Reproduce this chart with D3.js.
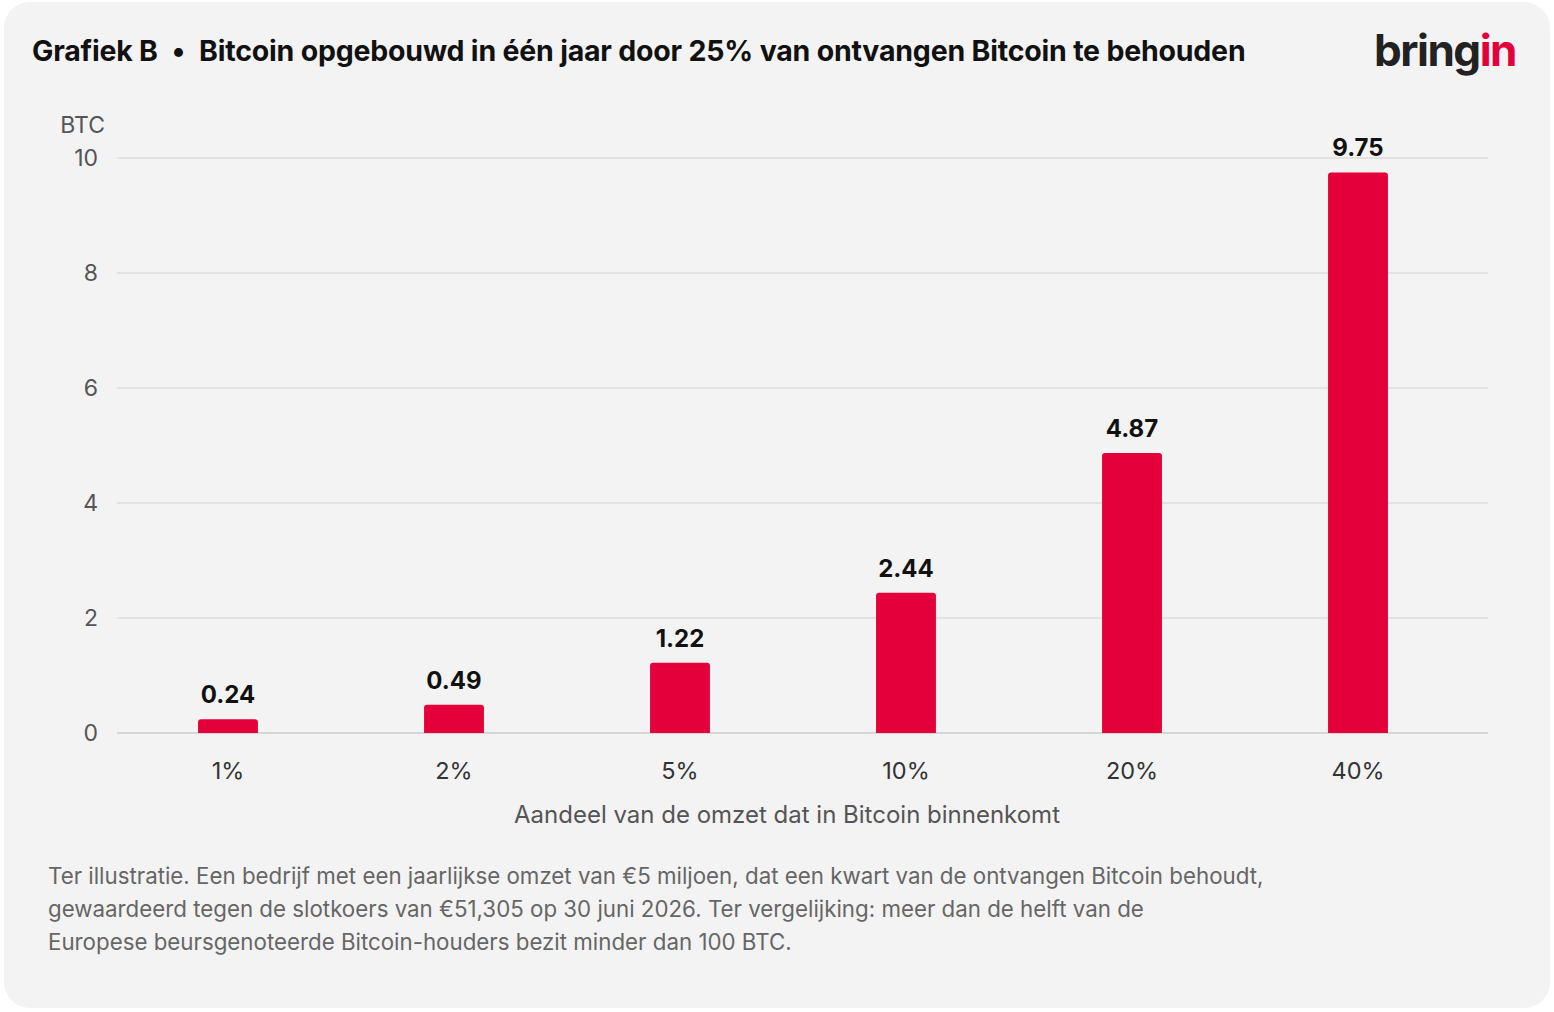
<!DOCTYPE html>
<html><head><meta charset="utf-8">
<script src="https://cdn.jsdelivr.net/npm/d3@7"></script>
<style>body{margin:0;background:#fff;font-family:Inter,"Noto Sans",sans-serif}</style>
</head><body><svg id="c" width="1554" height="1012"></svg>
<script>
const categories = ['1%', '2%', '5%', '10%', '20%', '40%'];
const values = [0.24, 0.49, 1.22, 2.44, 4.87, 9.75];
const yTicks = [0, 2, 4, 6, 8, 10];
const footnote = [
  'Ter illustratie. Een bedrijf met een jaarlijkse omzet van €5 miljoen, dat een kwart van de ontvangen Bitcoin behoudt,',
  'gewaardeerd tegen de slotkoers van €51,305 op 30 juni 2026. Ter vergelijking: meer dan de helft van de',
  'Europese beursgenoteerde Bitcoin-houders bezit minder dan 100 BTC.'
];

const svg = d3.select('#c');
svg.append('rect').attr('x', 4).attr('y', 2).attr('width', 1546).attr('height', 1006)
  .attr('rx', 26).attr('fill', '#f3f3f3');

const title = svg.append('text').attr('x', 32).attr('y', 61).attr('font-size', 28.5).attr('font-weight', 700)
  .attr('fill', '#111').attr('letter-spacing', -0.2);
title.append('tspan').text('Grafiek B');
title.append('tspan').attr('dx', 14).text('•');
title.append('tspan').attr('dx', 14).text('Bitcoin opgebouwd in één jaar door 25% van ontvangen Bitcoin te behouden');

const logo = svg.append('text').attr('x', 1516).attr('y', 66).attr('text-anchor', 'end')
  .attr('font-size', 44).attr('font-weight', 700).attr('letter-spacing', -1.5);
logo.append('tspan').attr('fill', '#222').text('bring');
logo.append('tspan').attr('fill', '#e4003a').text('in');

const x = d3.scaleBand().domain(categories).range([115, 1471]).paddingInner(0.735).paddingOuter(0.3675);
const y = d3.scaleLinear().domain([0, 10]).range([733, 158]);

const g = svg.append('g');
g.selectAll('line.grid').data(yTicks).enter().append('line')
  .attr('x1', 117).attr('x2', 1488).attr('y1', d => y(d)).attr('y2', d => y(d))
  .attr('stroke', d => d === 0 ? '#d6d6d6' : '#e2e2e2').attr('stroke-width', 2);
g.selectAll('text.yt').data(yTicks).enter().append('text')
  .attr('x', 98).attr('y', d => y(d) + 8).attr('text-anchor', 'end')
  .attr('font-size', 23).attr('fill', '#555').text(d => d);
svg.append('text').attr('x', 105).attr('y', 133).attr('text-anchor', 'end')
  .attr('font-size', 23).attr('fill', '#555').text('BTC');

g.selectAll('path.bar').data(values).enter().append('path')
  .attr('fill', '#e4003a')
  .attr('d', (d, i) => {
    const x0 = x(categories[i]), w = x.bandwidth(), y0 = y(d), y1 = y(0), r = 3;
    return `M${x0},${y1}V${y0 + r}Q${x0},${y0} ${x0 + r},${y0}H${x0 + w - r}Q${x0 + w},${y0} ${x0 + w},${y0 + r}V${y1}Z`;
  });
g.selectAll('text.val').data(values).enter().append('text')
  .attr('x', (d, i) => x(categories[i]) + x.bandwidth() / 2).attr('y', d => y(d) - 16)
  .attr('text-anchor', 'middle').attr('font-size', 24).attr('font-weight', 700).attr('fill', '#111')
  .text(d => d.toFixed(2));
g.selectAll('text.xt').data(categories).enter().append('text')
  .attr('x', d => x(d) + x.bandwidth() / 2).attr('y', 779).attr('text-anchor', 'middle')
  .attr('font-size', 23.5).attr('fill', '#333').text(d => d);
svg.append('text').attr('x', 787).attr('y', 823).attr('text-anchor', 'middle')
  .attr('font-size', 24).attr('fill', '#555').text('Aandeel van de omzet dat in Bitcoin binnenkomt');

svg.selectAll('text.fn').data(footnote).enter().append('text')
  .attr('x', 48).attr('y', (d, i) => 884 + i * 33).attr('font-size', 22.3).attr('fill', '#666').text(d => d);
</script></body></html>
